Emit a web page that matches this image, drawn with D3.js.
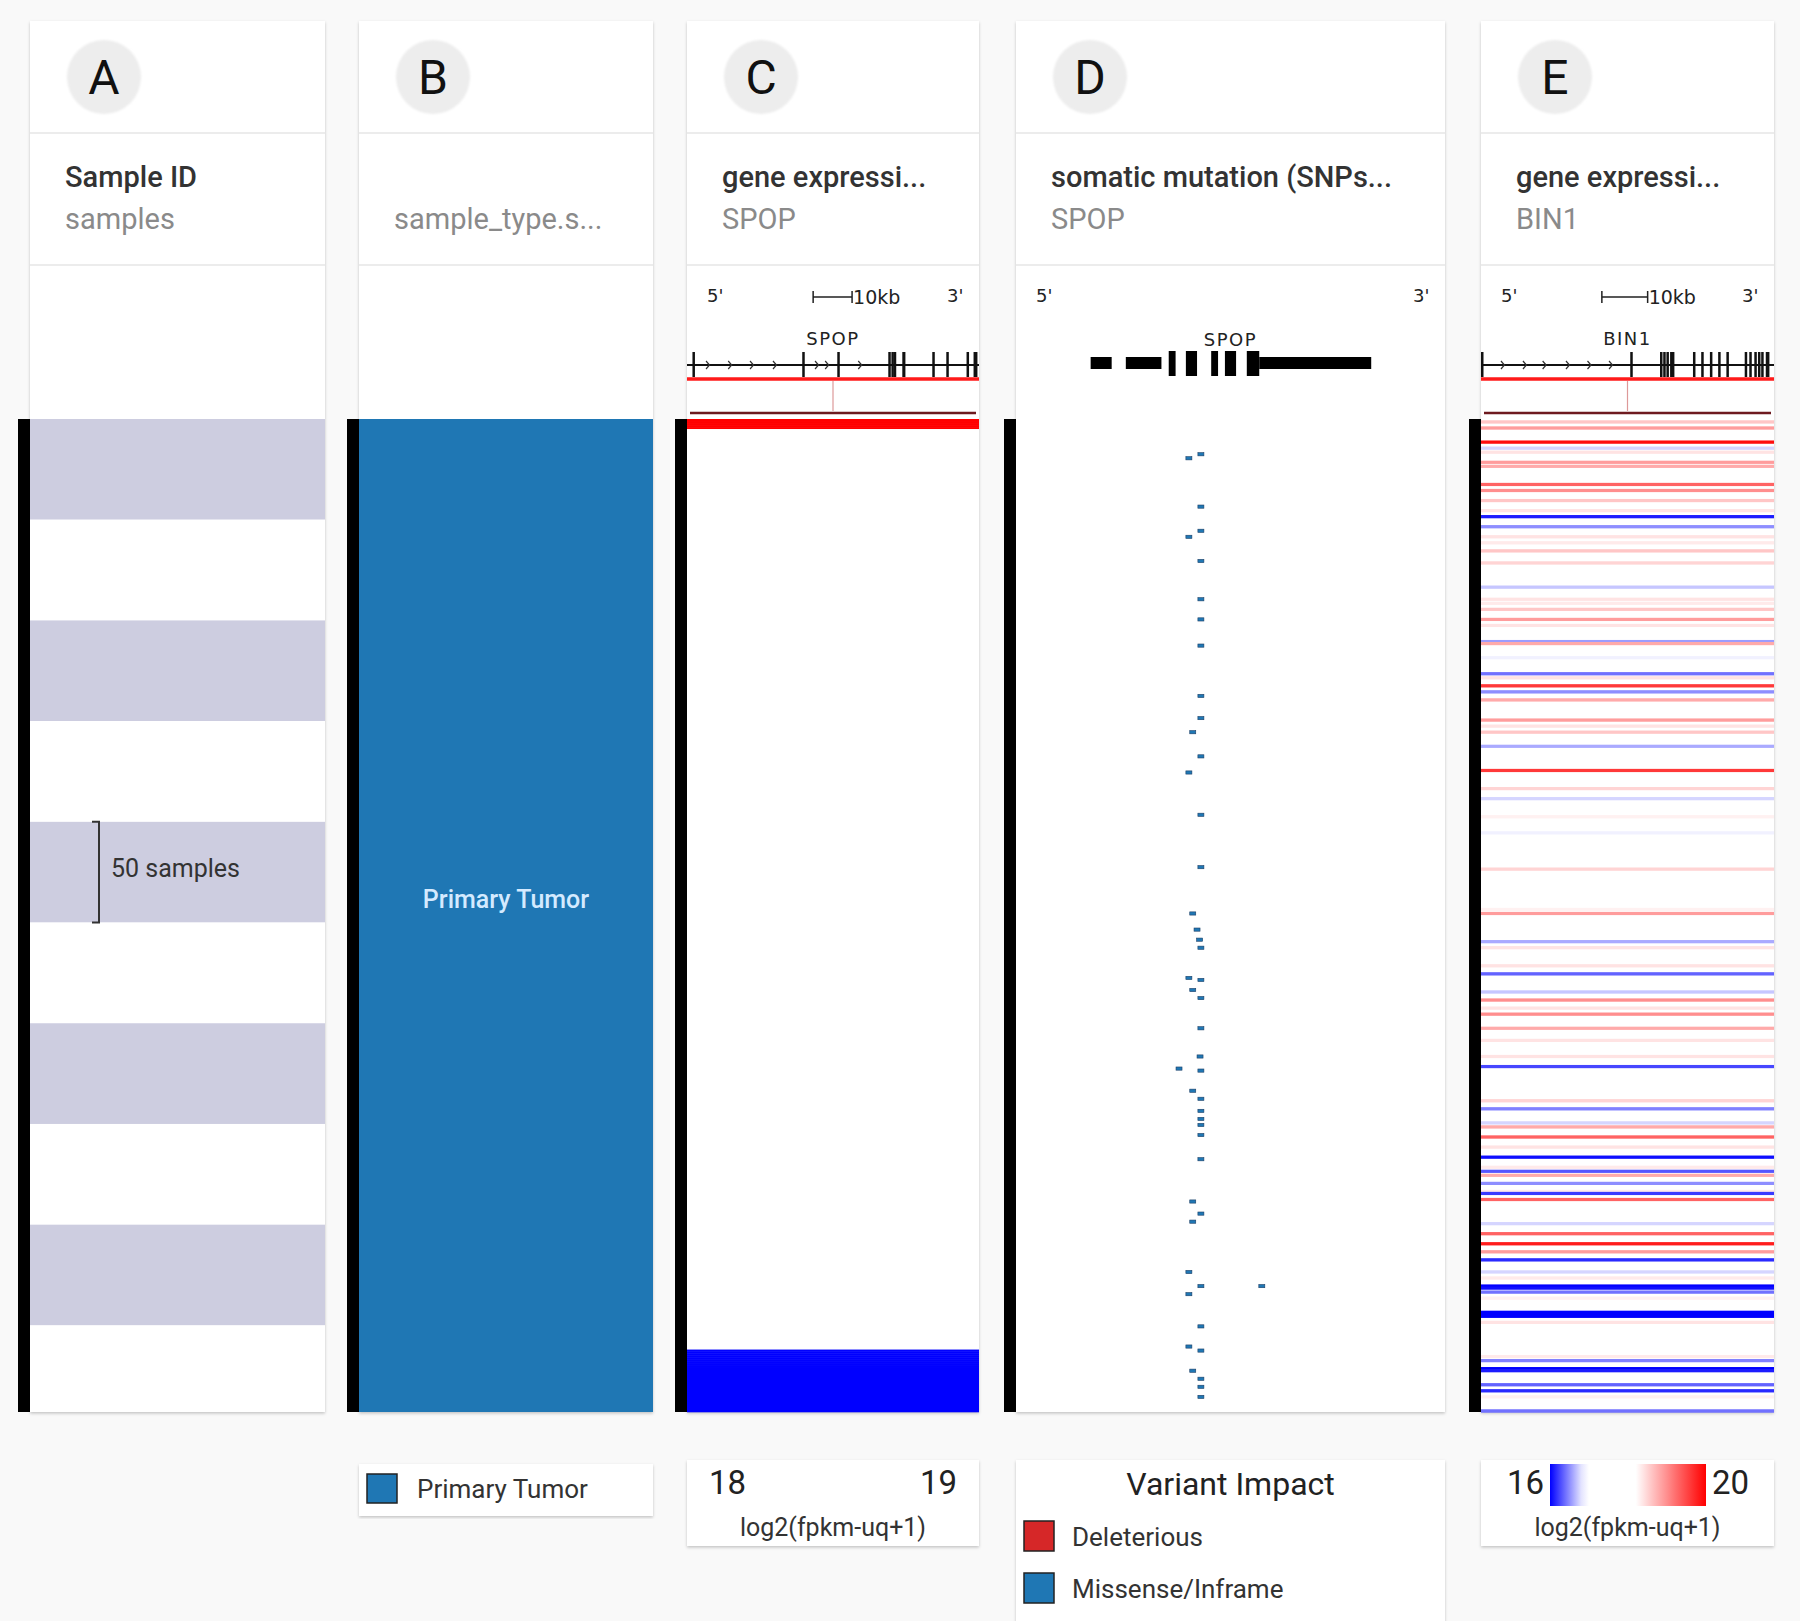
<!DOCTYPE html>
<html>
<head>
<meta charset="utf-8">
<script src="https://cdn.jsdelivr.net/npm/d3@7"></script>
<style>
body { margin: 0; background: #f9f9f9; }
svg { display: block; font-family: Roboto, "Noto Sans", sans-serif; }
</style>
</head>
<body>
<svg id="chart" width="1800" height="1621"></svg>
<script>
// ---- data ----
const N_SAMPLES = 493;
const colLetters = ['A', 'B', 'C', 'D', 'E'];
const colTitles = ['Sample ID', '', 'gene expressi...', 'somatic mutation (SNPs...', 'gene expressi...'];
const colSubtitles = ['samples', 'sample_type.s...', 'SPOP', 'SPOP', 'BIN1'];

// column B: sample type runs [label, count]
const sampleTypes = [['Primary Tumor', 493]];
const sampleTypeColors = ['#1f77b4'];

// column C: SPOP expression, sorted, run-length [value, count]
const spopExprRuns = [[19.9, 1], [19.6, 1], [19.4, 1], [19.3, 1], [19.2, 1], [18.5, 457], [17.9, 31]];
const spopLegendTicks = [18, 19];

// column C gene model (kb from left edge of view)
const spopExons = [[1.4, 2.0], [29.6, 30.2], [38.6, 39.2], [51.7, 52.1], [52.5, 52.9], [53.1, 53.5],
  [55.3, 56.1], [63.0, 63.5], [66.6, 67.2], [71.8, 72.3], [73.6, 74.6]];
const spopIntronArrows = [5.4, 11.1, 16.7, 22.6, 33.4, 36.0, 44.5];
const spopSpanKb = 75;

// column D: exon view of SPOP (relative position 0-100), cds = tall block
const spopExonView = [[17.4, 22.3, false], [25.6, 33.9, false], [35.6, 37.2, true], [39.6, 42.2, true],
  [45.5, 47.1, true], [48.7, 51.3, true], [53.8, 56.7, true], [56.7, 82.8, false]];
// mutations: [sample index, position in exon view, impact]
const spopMutations = [
  [17, 43.1, 'Missense/Inframe'], [19, 40.3, 'Missense/Inframe'], [43, 43.1, 'Missense/Inframe'],
  [55, 43.1, 'Missense/Inframe'], [58, 40.3, 'Missense/Inframe'], [70, 43.1, 'Missense/Inframe'],
  [89, 43.1, 'Missense/Inframe'], [99, 43.1, 'Missense/Inframe'], [112, 43.1, 'Missense/Inframe'],
  [137, 43.1, 'Missense/Inframe'], [148, 43.1, 'Missense/Inframe'], [155, 41.2, 'Missense/Inframe'],
  [167, 43.1, 'Missense/Inframe'], [175, 40.3, 'Missense/Inframe'], [196, 43.1, 'Missense/Inframe'],
  [222, 43.1, 'Missense/Inframe'], [245, 41.2, 'Missense/Inframe'], [253, 42.2, 'Missense/Inframe'],
  [258, 42.8, 'Missense/Inframe'], [262, 43.1, 'Missense/Inframe'], [277, 40.3, 'Missense/Inframe'],
  [278, 43.1, 'Missense/Inframe'], [283, 41.2, 'Missense/Inframe'], [287, 43.1, 'Missense/Inframe'],
  [302, 43.1, 'Missense/Inframe'], [316, 42.9, 'Missense/Inframe'], [322, 38.0, 'Missense/Inframe'],
  [323, 43.1, 'Missense/Inframe'], [333, 41.2, 'Missense/Inframe'], [337, 43.1, 'Missense/Inframe'],
  [343, 43.1, 'Missense/Inframe'], [347, 43.1, 'Missense/Inframe'], [350, 43.1, 'Missense/Inframe'],
  [355, 43.1, 'Missense/Inframe'], [367, 43.1, 'Missense/Inframe'], [388, 41.2, 'Missense/Inframe'],
  [394, 43.1, 'Missense/Inframe'], [398, 41.2, 'Missense/Inframe'], [423, 40.3, 'Missense/Inframe'],
  [430, 43.1, 'Missense/Inframe'], [430, 57.3, 'Missense/Inframe'], [434, 40.3, 'Missense/Inframe'],
  [450, 43.1, 'Missense/Inframe'], [460, 40.3, 'Missense/Inframe'], [462, 43.1, 'Missense/Inframe'],
  [472, 41.2, 'Missense/Inframe'], [476, 43.1, 'Missense/Inframe'], [480, 43.1, 'Missense/Inframe'],
  [485, 43.1, 'Missense/Inframe']
];
const impactLabels = ['Deleterious', 'Missense/Inframe'];
const impactColors = ['#d62728', '#1f77b4'];

// column E: BIN1 expression. stripes [sample index, value]; other samples sit in the white band
const bin1Baseline = 17.5;
const bin1Stripes = [
  [1, 18.6], [4, 18.9], [11, 19.9], [14, 16.75], [16, 18.4], [21, 18.9], [23, 18.8], [32, 19.3],
  [35, 19.0], [40, 18.6], [45, 18.4], [48, 16.1], [53, 16.5], [58, 18.4], [61, 18.35], [65, 18.6],
  [71, 18.5], [83, 16.7], [89, 18.4], [91, 18.35], [94, 18.6], [99, 18.9], [102, 18.4], [110, 16.55],
  [111, 18.8], [118, 16.85], [126, 16.4], [128, 18.4], [132, 19.6], [135, 16.5], [139, 18.8],
  [149, 18.9], [152, 18.4], [155, 18.6], [162, 16.6], [174, 19.6], [183, 18.5], [188, 16.75],
  [197, 18.3], [205, 16.85], [223, 18.5], [243, 18.3], [245, 18.9], [259, 16.6], [262, 18.4],
  [271, 18.4], [275, 16.35], [284, 16.7], [288, 19.0], [292, 18.4], [295, 19.0], [302, 18.8],
  [308, 18.4], [316, 18.4], [321, 16.25], [338, 18.5], [342, 16.45], [349, 16.75], [351, 18.8],
  [356, 19.3], [361, 18.4], [366, 16.05], [371, 18.35], [373, 16.3], [375, 18.8], [379, 16.5],
  [383, 18.35], [384, 16.2], [387, 19.3], [399, 16.75], [404, 19.3], [409, 19.8], [413, 18.9],
  [417, 16.15], [423, 16.75], [426, 18.35], [430, 16.0], [431, 16.05], [433, 16.4], [436, 18.3],
  [443, 15.9], [444, 15.95], [445, 16.0], [448, 18.4], [465, 18.35], [467, 16.45], [471, 16.0],
  [472, 16.1], [479, 16.35], [482, 16.15], [485, 18.3], [492, 16.4]
];
const bin1LegendTicks = [16, 20];

// column E gene model (kb)
const bin1Exons = [[0.0, 0.4], [32.6, 33.0], [39.1, 39.5], [39.8, 40.2], [40.5, 40.9], [41.3, 41.7],
  [41.7, 42.1], [46.3, 46.8], [48.1, 48.6], [50.0, 50.5], [51.8, 52.3], [53.6, 54.1], [57.6, 58.1],
  [58.6, 59.1], [59.7, 60.2], [60.5, 61.0], [61.2, 61.7], [62.2, 63.0]];
const bin1IntronArrows = [4.8, 9.6, 13.9, 19.0, 23.7, 28.4];
const bin1SpanKb = 64;

// ---- layout ----
const colX = [30, 359, 687, 1016, 1481];
const colW = [295, 294, 292, 429, 293];
const cardTop = 21, headBottom = 133, titleBottom = 265, dataTop = 419, dataBottom = 1412;

const svg = d3.select('#chart');
const defs = svg.append('defs');
const shadow = defs.append('filter').attr('id', 'shadow')
  .attr('x', '-5%').attr('y', '-5%').attr('width', '110%').attr('height', '110%');
shadow.append('feDropShadow').attr('dx', 0).attr('dy', 1.5).attr('stdDeviation', 1.8)
  .attr('flood-color', '#000').attr('flood-opacity', 0.22);
const blur = defs.append('filter').attr('id', 'soft');
blur.append('feGaussianBlur').attr('stdDeviation', 1.2);

const y = d3.scaleLinear().domain([0, N_SAMPLES]).range([dataTop, dataBottom]);
const rowH = y(1) - y(0);

const colorC = d3.scaleLinear().domain([17.99, 18, 19, 19.01])
  .range(['#0000ff', '#ffffff', '#ffffff', '#ff0000']).clamp(true);
const colorE = d3.scaleLinear().domain([16, 16.9, 18.2, 20])
  .range(['#0000ff', '#ffffff', '#ffffff', '#ff0000']).clamp(true);
const impactColor = d3.scaleOrdinal().domain(impactLabels).range(impactColors);
const typeColor = d3.scaleOrdinal().domain(sampleTypes.map(d => d[0])).range(sampleTypeColors);

// cards + header
colLetters.forEach((letter, i) => {
  const x0 = colX[i], w = colW[i];
  const g = svg.append('g');
  g.append('rect').attr('x', x0).attr('y', cardTop).attr('width', w)
    .attr('height', dataBottom - cardTop).attr('fill', '#fff').attr('filter', 'url(#shadow)');
  [headBottom, titleBottom].forEach(ly => {
    g.append('line').attr('x1', x0).attr('x2', x0 + w).attr('y1', ly).attr('y2', ly)
      .attr('stroke', '#e6e6e6').attr('stroke-width', 1.5);
  });
  g.append('circle').attr('cx', x0 + 74).attr('cy', 77).attr('r', 37)
    .attr('fill', '#ededed').attr('filter', 'url(#soft)');
  g.append('text').attr('x', x0 + 74).attr('y', 94).attr('text-anchor', 'middle')
    .attr('font-size', 48).attr('fill', '#111').text(letter);
  g.append('text').attr('x', x0 + 35).attr('y', 187).attr('font-size', 29)
    .attr('font-weight', 500).attr('fill', '#333').text(colTitles[i]);
  g.append('text').attr('x', x0 + 35).attr('y', 229).attr('font-size', 29)
    .attr('fill', '#8a8a8a').text(colSubtitles[i]);
  // black sample bar
  svg.append('rect').attr('x', x0 - 12).attr('y', dataTop).attr('width', 12)
    .attr('height', dataBottom - dataTop).attr('fill', '#000');
});

// ---- A: sample bands ----
const bandStarts = d3.range(0, N_SAMPLES, 50);
svg.append('g').selectAll('rect').data(bandStarts).join('rect')
  .attr('x', colX[0]).attr('width', colW[0])
  .attr('y', d => y(d)).attr('height', d => y(Math.min(d + 50, N_SAMPLES)) - y(d))
  .attr('fill', (d, k) => k % 2 === 0 ? '#cdcde0' : '#ffffff');
const bracketStart = 200, bracketSize = 50;
svg.append('path')
  .attr('d', `M${colX[0] + 62},${y(bracketStart)}H${colX[0] + 69}V${y(bracketStart + bracketSize)}H${colX[0] + 62}`)
  .attr('fill', 'none').attr('stroke', '#333').attr('stroke-width', 2);
svg.append('text').attr('x', colX[0] + 81).attr('y', (y(bracketStart) + y(bracketStart + bracketSize)) / 2 + 5)
  .attr('font-size', 25).attr('fill', '#333').text(`${bracketSize} samples`);

// ---- B: sample type ----
let acc = 0;
const typeRuns = sampleTypes.map(([label, count]) => { const r = { label, start: acc, end: acc + count }; acc += count; return r; });
svg.append('g').selectAll('rect').data(typeRuns).join('rect')
  .attr('x', colX[1]).attr('width', colW[1])
  .attr('y', d => y(d.start)).attr('height', d => y(d.end) - y(d.start))
  .attr('fill', d => typeColor(d.label));
svg.append('g').selectAll('text').data(typeRuns).join('text')
  .attr('x', colX[1] + colW[1] / 2).attr('y', d => (y(d.start) + y(d.end)) / 2 - 8)
  .attr('text-anchor', 'middle').attr('font-size', 25).attr('font-weight', 500)
  .attr('fill', '#d4eaff').text(d => d.label);

// ---- C: SPOP expression ----
const spopValues = spopExprRuns.flatMap(([v, c]) => d3.range(c).map(() => v));
svg.append('g').selectAll('rect').data(spopValues).join('rect')
  .attr('x', colX[2]).attr('width', colW[2])
  .attr('y', (d, i) => y(i)).attr('height', rowH + 0.3)
  .attr('fill', d => colorC(d));

// ---- D: mutations ----
const xD = d3.scaleLinear().domain([0, 100]).range([colX[3], colX[3] + colW[3]]);
svg.append('g').selectAll('rect').data(spopMutations).join('rect')
  .attr('x', d => xD(d[1]) - 3).attr('y', d => y(d[0]) + rowH / 2 - 1.6)
  .attr('width', 6).attr('height', 3.2)
  .attr('fill', d => impactColor(d[2])).attr('stroke', '#1c3f66').attr('stroke-width', 0.6);

// ---- E: BIN1 expression ----
const bin1Map = new Map(bin1Stripes);
const bin1Values = d3.range(N_SAMPLES).map(i => bin1Map.has(i) ? bin1Map.get(i) : bin1Baseline);
svg.append('g').selectAll('rect').data(bin1Values).join('rect')
  .attr('x', colX[4]).attr('width', colW[4])
  .attr('y', (d, i) => y(i) - 0.3).attr('height', rowH + 0.6)
  .attr('fill', d => colorE(d));
// listed samples drawn again on top, slightly taller so they read like the original
svg.append('g').selectAll('rect').data(bin1Stripes).join('rect')
  .attr('x', colX[4]).attr('width', colW[4])
  .attr('y', d => y(d[0]) - 0.6).attr('height', rowH + 1.2)
  .attr('fill', d => colorE(d[1]));

// ---- gene annotation rows ----
function geneModel(ci, exons, arrows, spanKb, name, scaleStartKb) {
  const x0 = colX[ci], w = colW[ci];
  const x = d3.scaleLinear().domain([0, spanKb]).range([x0, x0 + w]);
  const g = svg.append('g').attr('font-family', '"DejaVu Sans", Verdana, sans-serif');
  g.append('text').attr('x', x0 + 20).attr('y', 302).attr('font-size', 18).attr('fill', '#222').text("5'");
  g.append('text').attr('x', x0 + w - 32).attr('y', 302).attr('font-size', 18).attr('fill', '#222').text("3'");
  const sx1 = x(scaleStartKb), sx2 = x(scaleStartKb + 10);
  g.append('path').attr('d', `M${sx1},291V303M${sx1},297H${sx2}M${sx2},291V303`)
    .attr('stroke', '#222').attr('stroke-width', 1.5).attr('fill', 'none');
  g.append('text').attr('x', sx2 + 1).attr('y', 304).attr('font-size', 19).attr('fill', '#222').text('10kb');
  g.append('text').attr('x', x0 + w / 2).attr('y', 345).attr('text-anchor', 'middle')
    .attr('font-size', 18).attr('letter-spacing', 1.5).attr('fill', '#222').text(name);
  g.append('line').attr('x1', x0).attr('x2', x0 + w).attr('y1', 365).attr('y2', 365)
    .attr('stroke', '#111').attr('stroke-width', 2);
  g.selectAll('path.arrow').data(arrows).join('path').attr('class', 'arrow')
    .attr('d', d => `M${x(d) - 2},361L${x(d) + 1.5},365L${x(d) - 2},369`)
    .attr('stroke', '#333').attr('stroke-width', 1.2).attr('fill', 'none');
  g.selectAll('rect.exon').data(exons).join('rect').attr('class', 'exon')
    .attr('x', d => x(d[0])).attr('width', d => Math.max(2.5, x(d[1]) - x(d[0])))
    .attr('y', 352).attr('height', 25).attr('fill', '#111');
  g.append('line').attr('x1', x0).attr('x2', x0 + w).attr('y1', 379).attr('y2', 379)
    .attr('stroke', '#ff1a1a').attr('stroke-width', 3.5);
  g.append('line').attr('x1', x0 + w / 2).attr('x2', x0 + w / 2).attr('y1', 381).attr('y2', 411)
    .attr('stroke', '#d99').attr('stroke-width', 1.2);
  g.append('line').attr('x1', x0 + 3).attr('x2', x0 + w - 3).attr('y1', 413).attr('y2', 413)
    .attr('stroke', '#6e1a1f').attr('stroke-width', 2.6);
}
geneModel(2, spopExons, spopIntronArrows, spopSpanKb, 'SPOP', 32.4);
geneModel(4, bin1Exons, bin1IntronArrows, bin1SpanKb, 'BIN1', 26.4);

// D exon view
const gD = svg.append('g').attr('font-family', '"DejaVu Sans", Verdana, sans-serif');
gD.append('text').attr('x', colX[3] + 20).attr('y', 302).attr('font-size', 18).attr('fill', '#222').text("5'");
gD.append('text').attr('x', colX[3] + colW[3] - 32).attr('y', 302).attr('font-size', 18).attr('fill', '#222').text("3'");
gD.append('text').attr('x', xD(50)).attr('y', 346).attr('text-anchor', 'middle')
  .attr('font-size', 18).attr('letter-spacing', 1.5).attr('fill', '#222').text('SPOP');
gD.selectAll('rect').data(spopExonView).join('rect')
  .attr('x', d => xD(d[0])).attr('width', d => xD(d[1]) - xD(d[0]))
  .attr('y', d => d[2] ? 351 : 357).attr('height', d => d[2] ? 25 : 12)
  .attr('fill', '#000');

// ---- legends ----
const lg = svg.append('g');
// B
lg.append('rect').attr('x', colX[1]).attr('y', 1464).attr('width', colW[1]).attr('height', 52)
  .attr('fill', '#fff').attr('filter', 'url(#shadow)');
lg.selectAll('rect.sw').data(sampleTypes).join('rect').attr('class', 'sw')
  .attr('x', colX[1] + 8).attr('y', 1474).attr('width', 30).attr('height', 29)
  .attr('fill', d => typeColor(d[0])).attr('stroke', '#222').attr('stroke-width', 1.5);
lg.selectAll('text.sw').data(sampleTypes).join('text').attr('class', 'sw')
  .attr('x', colX[1] + 58).attr('y', 1498).attr('font-size', 26).attr('fill', '#333').text(d => d[0]);

function heatLegend(ci, ticks, color, barX0, barX1, gid) {
  const x0 = colX[ci], w = colW[ci];
  lg.append('rect').attr('x', x0).attr('y', 1460).attr('width', w).attr('height', 86)
    .attr('fill', '#fff').attr('filter', 'url(#shadow)');
  const grad = defs.append('linearGradient').attr('id', gid);
  d3.range(0, 1.0001, 0.05).forEach(t => {
    grad.append('stop').attr('offset', t)
      .attr('stop-color', color(ticks[0] + t * (ticks[1] - ticks[0])));
  });
  lg.append('rect').attr('x', barX0).attr('y', 1464).attr('width', barX1 - barX0).attr('height', 42)
    .attr('fill', `url(#${gid})`);
  lg.append('text').attr('x', barX0 - 6).attr('y', 1494).attr('text-anchor', 'end')
    .attr('font-size', 33).attr('fill', '#222').text(ticks[0]);
  lg.append('text').attr('x', barX1 + 6).attr('y', 1494)
    .attr('font-size', 33).attr('fill', '#222').text(ticks[1]);
  lg.append('text').attr('x', x0 + w / 2).attr('y', 1536).attr('text-anchor', 'middle')
    .attr('font-size', 25).attr('fill', '#333').text('log2(fpkm-uq+1)');
}
heatLegend(2, spopLegendTicks, colorC, 752, 914, 'gradC');
heatLegend(4, bin1LegendTicks, colorE, 1550, 1706, 'gradE');

// D legend
lg.append('rect').attr('x', colX[3]).attr('y', 1460).attr('width', colW[3]).attr('height', 180)
  .attr('fill', '#fff').attr('filter', 'url(#shadow)');
lg.append('text').attr('x', colX[3] + colW[3] / 2).attr('y', 1495).attr('text-anchor', 'middle')
  .attr('font-size', 32).attr('fill', '#222').text('Variant Impact');
const impactRow = d3.scalePoint().domain(impactLabels).range([1521, 1573]);
lg.selectAll('rect.imp').data(impactLabels).join('rect').attr('class', 'imp')
  .attr('x', colX[3] + 8).attr('y', d => impactRow(d)).attr('width', 30).attr('height', 30)
  .attr('fill', d => impactColor(d)).attr('stroke', '#222').attr('stroke-width', 1.5);
lg.selectAll('text.imp').data(impactLabels).join('text').attr('class', 'imp')
  .attr('x', colX[3] + 56).attr('y', d => impactRow(d) + 25)
  .attr('font-size', 26).attr('fill', '#333').text(d => d);
</script>
</body>
</html>
